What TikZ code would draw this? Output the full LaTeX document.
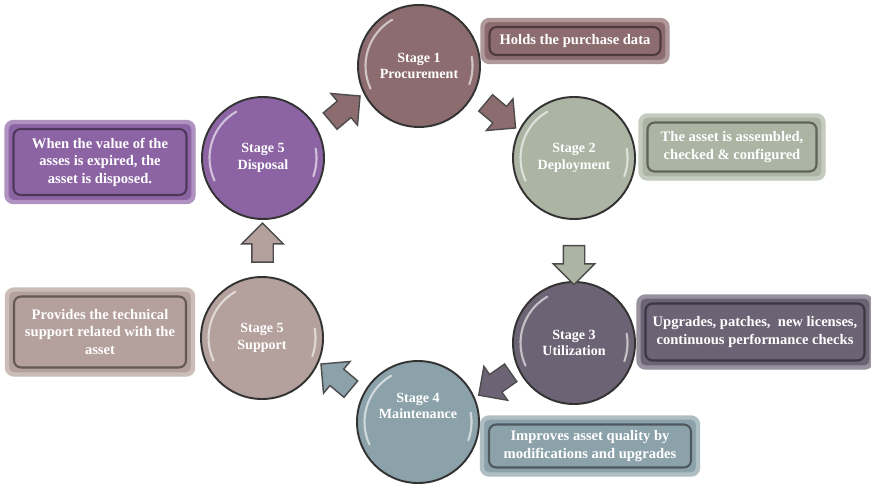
\documentclass[tikz,border=0pt]{standalone}
\usepackage{fontspec}
\setmainfont{Liberation Serif}
\usepackage{tikz}
\usetikzlibrary{calc}
\usetikzlibrary{shapes.arrows}
\usetikzlibrary{shadows}
\definecolor{mproc}{RGB}{140,108,110}
\definecolor{mdepl}{RGB}{172,180,164}
\definecolor{mutil}{RGB}{108,100,116}
\definecolor{mmaint}{RGB}{140,162,170}
\definecolor{msupp}{RGB}{180,160,156}
\definecolor{mdisp}{RGB}{140,100,164}
\tikzset{stagecircle/.style = {circle, fill=#1, draw=black!80, line width=1.1pt,
                               minimum size=2.44cm, inner sep=0, text=white, align=center,
                               font=\bfseries\fontsize{8}{9.5}\selectfont}}
\tikzset{notebox/.style = {rectangle, rounded corners=4pt, fill=#1, draw=#1!70!white,
                           line width=2.5pt, inner sep=0, text=white, align=center,
                           font=\bfseries\fontsize{8.3}{10}\selectfont,
                           drop shadow={opacity=0.25, shadow xshift=1pt, shadow yshift=-1pt},
                           path picture={\draw[#1!55!black, line width=1.2pt]
                             ([shift={(4pt,-4pt)}]path picture bounding box.north west) rectangle
                             ([shift={(-4pt,4pt)}]path picture bounding box.south east);}}}
\tikzset{flowarrow/.style = {single arrow, fill=#1, draw=black!70, line width=0.8pt,
                             minimum height=0.78cm, inner xsep=0, inner ysep=0.2cm,
                             single arrow head extend=0.2cm}}
\tikzset{glint/.style = {white, line width=1.2pt, opacity=0.6, line cap=round}}

\begin{document}
\begin{tikzpicture}
  \useasboundingbox (0, 0) rectangle (17.42, 9.78);
  % stages
  \node [stagecircle=mproc] (s1) at (8.38, 8.46) {Stage 1\\Procurement};
  \node [stagecircle=mdepl] (s2) at (11.48, 6.62) {Stage 2\\Deployment};
  \node [stagecircle=mutil] (s3) at (11.48, 2.92) {Stage 3\\Utilization};
  \node [stagecircle=mmaint] (s4) at (8.36, 1.34) {Stage 4\\Maintenance\\[9pt]~};
  \node [stagecircle=msupp] (s5) at (5.24, 3.02) {Stage 5\\Support};
  \node [stagecircle=mdisp] (s6) at (5.26, 6.62) {Stage 5\\Disposal};
  \foreach \s in {s1, s2, s3, s4, s5, s6} {
    \draw [glint] ($(\s)+(120:1.07)$) arc (120:205:1.07);
    \draw [glint] ($(\s)+(-20:1.07)$) arc (-20:10:1.07);
  }

  % notes
  \node [notebox=mproc, minimum width=3.7cm, minimum height=0.84cm] (b1) at (11.5, 8.96)
        {Holds the purchase data};
  \node [notebox=mdepl, minimum width=3.66cm, minimum height=1.26cm] (b2) at (14.64, 6.84)
        {The asset is assembled,\\checked \& configured};
  \node [notebox=mutil, minimum width=4.66cm, minimum height=1.42cm] (b3) at (15.1, 3.14)
        {Upgrades, patches,~ new licenses,\\continuous performance checks};
  \node [notebox=mmaint, minimum width=4.32cm, minimum height=1.14cm] (b4) at (11.8, 0.86)
        {Improves asset quality by\\modifications and upgrades};
  \node [notebox=msupp, minimum width=3.72cm, minimum height=1.7cm] (b5) at (2.0, 3.14)
        {Provides the technical\\support related with the\\asset};
  \node [notebox=mdisp, minimum width=3.74cm, minimum height=1.6cm] (b6) at (2.0, 6.54)
        {When the value of the\\asses is expired, the\\asset is disposed.};

  % arrows between stages
  \node [flowarrow=mproc, rotate=40] (a1) at ($(s6)!0.5!(s1)$) {};
  \node [flowarrow=mproc, rotate=-40] (a2) at ($(s1)!0.5!(s2)$) {};
  \node [flowarrow=mdepl, rotate=-90] (a3) at ($(s2)!0.55!(s3)$) {};
  \node [flowarrow=mutil, rotate=-145] (a4) at ($(s3)!0.48!(s4)$) {};
  \node [flowarrow=mmaint, rotate=140] (a5) at ($(s4)!0.5!(s5)$) {};
  \node [flowarrow=msupp, rotate=90] (a6) at ($(s5)!0.5!(s6)$) {};
\end{tikzpicture}
\end{document}
